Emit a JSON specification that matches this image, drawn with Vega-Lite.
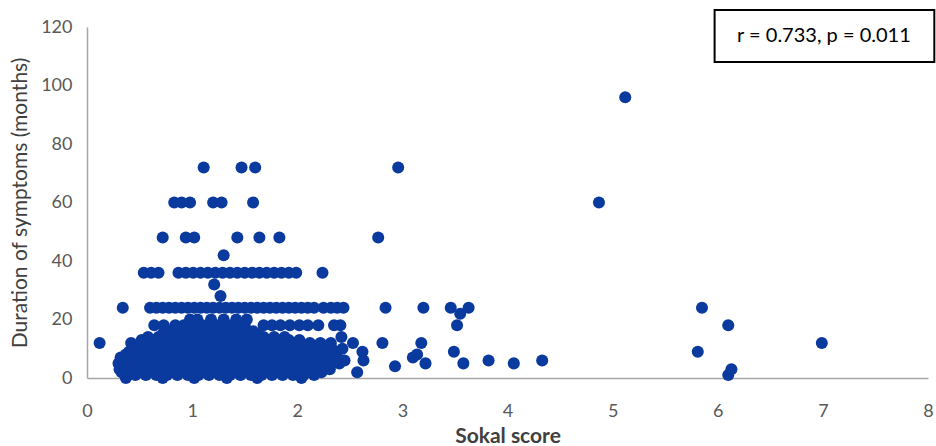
{
"$schema": "https://vega.github.io/schema/vega-lite/v6.json",
"width": 841, "height": 351,
"autosize": {"type": "none"},
"padding": {"left": 87, "top": 27, "right": 8, "bottom": 68},
"background": "white",
"config": {"view": {"stroke": null}, "font": "Lato"},
"datasets": {
"points": [
{"sokal":0.37,"months":0},{"sokal":0.72,"months":0},{"sokal":1.02,"months":0},{"sokal":1.33,"months":0},{"sokal":1.62,"months":0},{"sokal":2.04,"months":0},
{"sokal":0.36,"months":1},{"sokal":0.46,"months":1},{"sokal":0.56,"months":1},{"sokal":0.66,"months":1},{"sokal":0.76,"months":1},{"sokal":0.86,"months":1},{"sokal":0.96,"months":1},{"sokal":1.06,"months":1},{"sokal":1.16,"months":1},{"sokal":1.26,"months":1},{"sokal":1.36,"months":1},{"sokal":1.46,"months":1},{"sokal":1.56,"months":1},{"sokal":1.66,"months":1},{"sokal":1.76,"months":1},{"sokal":1.86,"months":1},{"sokal":1.96,"months":1},{"sokal":2.06,"months":1},{"sokal":2.16,"months":1},{"sokal":6.10,"months":1},
{"sokal":0.33,"months":2},{"sokal":0.43,"months":2},{"sokal":0.53,"months":2},{"sokal":0.63,"months":2},{"sokal":0.73,"months":2},{"sokal":0.83,"months":2},{"sokal":0.93,"months":2},{"sokal":1.03,"months":2},{"sokal":1.13,"months":2},{"sokal":1.23,"months":2},{"sokal":1.33,"months":2},{"sokal":1.43,"months":2},{"sokal":1.53,"months":2},{"sokal":1.63,"months":2},{"sokal":1.73,"months":2},{"sokal":1.83,"months":2},{"sokal":1.93,"months":2},{"sokal":2.03,"months":2},{"sokal":2.13,"months":2},{"sokal":2.23,"months":2},{"sokal":2.57,"months":2},
{"sokal":0.31,"months":3},{"sokal":0.41,"months":3},{"sokal":0.51,"months":3},{"sokal":0.61,"months":3},{"sokal":0.71,"months":3},{"sokal":0.81,"months":3},{"sokal":0.91,"months":3},{"sokal":1.01,"months":3},{"sokal":1.11,"months":3},{"sokal":1.21,"months":3},{"sokal":1.31,"months":3},{"sokal":1.41,"months":3},{"sokal":1.51,"months":3},{"sokal":1.61,"months":3},{"sokal":1.71,"months":3},{"sokal":1.81,"months":3},{"sokal":1.91,"months":3},{"sokal":2.01,"months":3},{"sokal":2.11,"months":3},{"sokal":2.21,"months":3},{"sokal":2.31,"months":3},{"sokal":6.13,"months":3},
{"sokal":0.34,"months":4},{"sokal":0.44,"months":4},{"sokal":0.54,"months":4},{"sokal":0.64,"months":4},{"sokal":0.74,"months":4},{"sokal":0.84,"months":4},{"sokal":0.94,"months":4},{"sokal":1.04,"months":4},{"sokal":1.14,"months":4},{"sokal":1.24,"months":4},{"sokal":1.34,"months":4},{"sokal":1.44,"months":4},{"sokal":1.54,"months":4},{"sokal":1.64,"months":4},{"sokal":1.74,"months":4},{"sokal":1.84,"months":4},{"sokal":1.94,"months":4},{"sokal":2.04,"months":4},{"sokal":2.14,"months":4},{"sokal":2.24,"months":4},{"sokal":2.93,"months":4},
{"sokal":0.30,"months":5},{"sokal":0.40,"months":5},{"sokal":0.50,"months":5},{"sokal":0.60,"months":5},{"sokal":0.70,"months":5},{"sokal":0.80,"months":5},{"sokal":0.90,"months":5},{"sokal":1.00,"months":5},{"sokal":1.10,"months":5},{"sokal":1.20,"months":5},{"sokal":1.30,"months":5},{"sokal":1.40,"months":5},{"sokal":1.50,"months":5},{"sokal":1.60,"months":5},{"sokal":1.70,"months":5},{"sokal":1.80,"months":5},{"sokal":1.90,"months":5},{"sokal":2.00,"months":5},{"sokal":2.10,"months":5},{"sokal":2.20,"months":5},{"sokal":2.30,"months":5},{"sokal":2.40,"months":5},{"sokal":3.22,"months":5},{"sokal":3.58,"months":5},{"sokal":4.06,"months":5},
{"sokal":0.35,"months":6},{"sokal":0.45,"months":6},{"sokal":0.55,"months":6},{"sokal":0.65,"months":6},{"sokal":0.75,"months":6},{"sokal":0.85,"months":6},{"sokal":0.95,"months":6},{"sokal":1.05,"months":6},{"sokal":1.15,"months":6},{"sokal":1.25,"months":6},{"sokal":1.35,"months":6},{"sokal":1.45,"months":6},{"sokal":1.55,"months":6},{"sokal":1.65,"months":6},{"sokal":1.75,"months":6},{"sokal":1.85,"months":6},{"sokal":1.95,"months":6},{"sokal":2.05,"months":6},{"sokal":2.15,"months":6},{"sokal":2.25,"months":6},{"sokal":2.35,"months":6},{"sokal":2.45,"months":6},{"sokal":2.63,"months":6},{"sokal":3.82,"months":6},{"sokal":4.33,"months":6},
{"sokal":0.32,"months":7},{"sokal":0.42,"months":7},{"sokal":0.52,"months":7},{"sokal":0.62,"months":7},{"sokal":0.72,"months":7},{"sokal":0.82,"months":7},{"sokal":0.92,"months":7},{"sokal":1.02,"months":7},{"sokal":1.12,"months":7},{"sokal":1.22,"months":7},{"sokal":1.32,"months":7},{"sokal":1.42,"months":7},{"sokal":1.52,"months":7},{"sokal":1.62,"months":7},{"sokal":1.72,"months":7},{"sokal":1.82,"months":7},{"sokal":1.92,"months":7},{"sokal":2.02,"months":7},{"sokal":2.12,"months":7},{"sokal":2.22,"months":7},{"sokal":2.32,"months":7},{"sokal":3.10,"months":7},
{"sokal":0.37,"months":8},{"sokal":0.47,"months":8},{"sokal":0.57,"months":8},{"sokal":0.67,"months":8},{"sokal":0.77,"months":8},{"sokal":0.87,"months":8},{"sokal":0.97,"months":8},{"sokal":1.07,"months":8},{"sokal":1.17,"months":8},{"sokal":1.27,"months":8},{"sokal":1.37,"months":8},{"sokal":1.47,"months":8},{"sokal":1.57,"months":8},{"sokal":1.67,"months":8},{"sokal":1.77,"months":8},{"sokal":1.87,"months":8},{"sokal":1.97,"months":8},{"sokal":2.07,"months":8},{"sokal":2.17,"months":8},{"sokal":2.27,"months":8},{"sokal":2.37,"months":8},{"sokal":3.14,"months":8},
{"sokal":0.40,"months":9},{"sokal":0.50,"months":9},{"sokal":0.60,"months":9},{"sokal":0.70,"months":9},{"sokal":0.80,"months":9},{"sokal":0.90,"months":9},{"sokal":1.00,"months":9},{"sokal":1.10,"months":9},{"sokal":1.20,"months":9},{"sokal":1.30,"months":9},{"sokal":1.40,"months":9},{"sokal":1.50,"months":9},{"sokal":1.60,"months":9},{"sokal":1.70,"months":9},{"sokal":1.80,"months":9},{"sokal":1.90,"months":9},{"sokal":2.00,"months":9},{"sokal":2.10,"months":9},{"sokal":2.20,"months":9},{"sokal":2.30,"months":9},{"sokal":2.62,"months":9},{"sokal":3.49,"months":9},{"sokal":5.81,"months":9},
{"sokal":0.43,"months":10},{"sokal":0.53,"months":10},{"sokal":0.63,"months":10},{"sokal":0.73,"months":10},{"sokal":0.83,"months":10},{"sokal":0.93,"months":10},{"sokal":1.03,"months":10},{"sokal":1.13,"months":10},{"sokal":1.23,"months":10},{"sokal":1.33,"months":10},{"sokal":1.43,"months":10},{"sokal":1.53,"months":10},{"sokal":1.63,"months":10},{"sokal":1.73,"months":10},{"sokal":1.83,"months":10},{"sokal":1.93,"months":10},{"sokal":2.03,"months":10},{"sokal":2.13,"months":10},{"sokal":2.23,"months":10},{"sokal":2.33,"months":10},{"sokal":2.43,"months":10},
{"sokal":0.47,"months":11},{"sokal":0.57,"months":11},{"sokal":0.67,"months":11},{"sokal":0.77,"months":11},{"sokal":0.87,"months":11},{"sokal":0.97,"months":11},{"sokal":1.07,"months":11},{"sokal":1.17,"months":11},{"sokal":1.27,"months":11},{"sokal":1.37,"months":11},{"sokal":1.47,"months":11},{"sokal":1.57,"months":11},{"sokal":1.67,"months":11},{"sokal":1.77,"months":11},{"sokal":1.87,"months":11},{"sokal":1.97,"months":11},{"sokal":2.07,"months":11},{"sokal":2.17,"months":11},{"sokal":2.27,"months":11},
{"sokal":0.12,"months":12},{"sokal":0.42,"months":12},{"sokal":0.52,"months":12},{"sokal":0.62,"months":12},{"sokal":0.72,"months":12},{"sokal":0.82,"months":12},{"sokal":0.92,"months":12},{"sokal":1.02,"months":12},{"sokal":1.12,"months":12},{"sokal":1.22,"months":12},{"sokal":1.32,"months":12},{"sokal":1.42,"months":12},{"sokal":1.52,"months":12},{"sokal":1.62,"months":12},{"sokal":1.72,"months":12},{"sokal":1.82,"months":12},{"sokal":1.92,"months":12},{"sokal":2.02,"months":12},{"sokal":2.12,"months":12},{"sokal":2.22,"months":12},{"sokal":2.32,"months":12},{"sokal":2.53,"months":12},{"sokal":2.81,"months":12},{"sokal":3.18,"months":12},{"sokal":6.99,"months":12},
{"sokal":0.52,"months":13},{"sokal":0.62,"months":13},{"sokal":0.72,"months":13},{"sokal":0.82,"months":13},{"sokal":0.92,"months":13},{"sokal":1.02,"months":13},{"sokal":1.12,"months":13},{"sokal":1.22,"months":13},{"sokal":1.32,"months":13},{"sokal":1.42,"months":13},{"sokal":1.52,"months":13},{"sokal":1.62,"months":13},{"sokal":1.72,"months":13},{"sokal":1.82,"months":13},{"sokal":1.92,"months":13},{"sokal":2.02,"months":13},
{"sokal":0.58,"months":14},{"sokal":0.68,"months":14},{"sokal":0.78,"months":14},{"sokal":0.88,"months":14},{"sokal":0.98,"months":14},{"sokal":1.08,"months":14},{"sokal":1.18,"months":14},{"sokal":1.28,"months":14},{"sokal":1.38,"months":14},{"sokal":1.48,"months":14},{"sokal":1.58,"months":14},{"sokal":1.68,"months":14},{"sokal":1.78,"months":14},{"sokal":1.88,"months":14},{"sokal":2.42,"months":14},
{"sokal":0.72,"months":15},{"sokal":0.82,"months":15},{"sokal":0.92,"months":15},{"sokal":1.02,"months":15},{"sokal":1.12,"months":15},{"sokal":1.22,"months":15},{"sokal":1.32,"months":15},{"sokal":1.42,"months":15},{"sokal":1.52,"months":15},{"sokal":1.62,"months":15},
{"sokal":0.78,"months":16},{"sokal":0.88,"months":16},{"sokal":0.98,"months":16},{"sokal":1.08,"months":16},{"sokal":1.18,"months":16},{"sokal":1.28,"months":16},{"sokal":1.38,"months":16},{"sokal":1.48,"months":16},{"sokal":1.58,"months":16},
{"sokal":0.64,"months":18},{"sokal":0.73,"months":18},{"sokal":0.84,"months":18},{"sokal":0.92,"months":18},{"sokal":1.00,"months":18},{"sokal":1.10,"months":18},{"sokal":1.18,"months":18},{"sokal":1.26,"months":18},{"sokal":1.34,"months":18},{"sokal":1.42,"months":18},{"sokal":1.50,"months":18},{"sokal":1.68,"months":18},{"sokal":1.76,"months":18},{"sokal":1.84,"months":18},{"sokal":1.93,"months":18},{"sokal":2.02,"months":18},{"sokal":2.10,"months":18},{"sokal":2.20,"months":18},{"sokal":2.35,"months":18},{"sokal":2.41,"months":18},{"sokal":3.52,"months":18},{"sokal":6.10,"months":18},
{"sokal":0.98,"months":20},{"sokal":1.05,"months":20},{"sokal":1.18,"months":20},{"sokal":1.30,"months":20},{"sokal":1.42,"months":20},{"sokal":1.52,"months":20},
{"sokal":3.55,"months":22},
{"sokal":0.34,"months":24},{"sokal":0.60,"months":24},{"sokal":0.66,"months":24},{"sokal":0.72,"months":24},{"sokal":0.78,"months":24},{"sokal":0.84,"months":24},{"sokal":0.90,"months":24},{"sokal":0.96,"months":24},{"sokal":1.02,"months":24},{"sokal":1.08,"months":24},{"sokal":1.14,"months":24},{"sokal":1.20,"months":24},{"sokal":1.26,"months":24},{"sokal":1.32,"months":24},{"sokal":1.38,"months":24},{"sokal":1.44,"months":24},{"sokal":1.50,"months":24},{"sokal":1.56,"months":24},{"sokal":1.62,"months":24},{"sokal":1.68,"months":24},{"sokal":1.74,"months":24},{"sokal":1.80,"months":24},{"sokal":1.86,"months":24},{"sokal":1.92,"months":24},{"sokal":1.98,"months":24},{"sokal":2.04,"months":24},{"sokal":2.10,"months":24},{"sokal":2.16,"months":24},{"sokal":2.25,"months":24},{"sokal":2.32,"months":24},{"sokal":2.38,"months":24},{"sokal":2.44,"months":24},{"sokal":2.84,"months":24},{"sokal":3.20,"months":24},{"sokal":3.46,"months":24},{"sokal":3.63,"months":24},{"sokal":5.85,"months":24},
{"sokal":1.27,"months":28},{"sokal":1.21,"months":32},
{"sokal":0.54,"months":36},{"sokal":0.61,"months":36},{"sokal":0.68,"months":36},{"sokal":0.87,"months":36},{"sokal":0.94,"months":36},{"sokal":1.01,"months":36},{"sokal":1.08,"months":36},{"sokal":1.15,"months":36},{"sokal":1.22,"months":36},{"sokal":1.29,"months":36},{"sokal":1.36,"months":36},{"sokal":1.43,"months":36},{"sokal":1.50,"months":36},{"sokal":1.57,"months":36},{"sokal":1.64,"months":36},{"sokal":1.71,"months":36},{"sokal":1.78,"months":36},{"sokal":1.85,"months":36},{"sokal":1.92,"months":36},{"sokal":1.99,"months":36},{"sokal":2.24,"months":36},
{"sokal":1.30,"months":42},
{"sokal":0.72,"months":48},{"sokal":0.94,"months":48},{"sokal":1.02,"months":48},{"sokal":1.43,"months":48},{"sokal":1.64,"months":48},{"sokal":1.83,"months":48},{"sokal":2.77,"months":48},
{"sokal":0.83,"months":60},{"sokal":0.90,"months":60},{"sokal":0.98,"months":60},{"sokal":1.20,"months":60},{"sokal":1.28,"months":60},{"sokal":1.58,"months":60},{"sokal":4.87,"months":60},
{"sokal":1.11,"months":72},{"sokal":1.47,"months":72},{"sokal":1.60,"months":72},{"sokal":2.96,"months":72},
{"sokal":5.12,"months":96}
],
"note": [{"x1": 5.97, "x2": 8.06, "y1": 108, "y2": 125.8, "xm": 7.01, "ym": 116.9, "label": "r = 0.733, p = 0.011"}]
},
"layer": [
{
"data": {"name": "points"},
"mark": {"type": "circle", "size": 145, "color": "#0b3a9e", "opacity": 1},
"encoding": {
"x": {"field": "sokal", "type": "quantitative", "title": "Sokal score", "scale": {"domain": [0, 8], "nice": false},
"axis": {"values": [0,1,2,3,4,5,6,7,8], "format": "d", "grid": false, "ticks": false, "tickSize": 0, "domainColor": "#a6a6a6", "domainWidth": 1.5, "labelFontSize": 18, "labelColor": "#595959", "labelPadding": 24, "labelFlush": false, "titleFontSize": 21, "titleFontWeight": "bold", "titleColor": "#404040", "titlePadding": 5}},
"y": {"field": "months", "type": "quantitative", "title": "Duration of symptoms (months)", "scale": {"domain": [0, 120], "nice": false},
"axis": {"values": [0,20,40,60,80,100,120], "format": "d", "grid": false, "ticks": false, "tickSize": 0, "domainColor": "#a6a6a6", "domainWidth": 1.5, "labelFontSize": 18, "labelColor": "#595959", "labelPadding": 15, "titleFontSize": 21, "titleFontWeight": "normal", "titleColor": "#404040", "titlePadding": 10}}
}
},
{
"data": {"name": "note"},
"mark": {"type": "rect", "fill": "white", "stroke": "black", "strokeWidth": 2, "clip": false},
"encoding": {
"x": {"field": "x1", "type": "quantitative", "title": "Sokal score", "scale": {"domain": [0, 8], "nice": false}},
"x2": {"field": "x2"},
"y": {"field": "y1", "type": "quantitative", "title": "Duration of symptoms (months)", "scale": {"domain": [0, 120], "nice": false}},
"y2": {"field": "y2"}
}
},
{
"data": {"name": "note"},
"mark": {"type": "text", "fontSize": 20, "color": "black", "font": "Lato"},
"encoding": {
"x": {"field": "xm", "type": "quantitative", "title": "Sokal score", "scale": {"domain": [0, 8], "nice": false}},
"y": {"field": "ym", "type": "quantitative", "title": "Duration of symptoms (months)", "scale": {"domain": [0, 120], "nice": false}},
"text": {"field": "label"}
}
}
]
}
